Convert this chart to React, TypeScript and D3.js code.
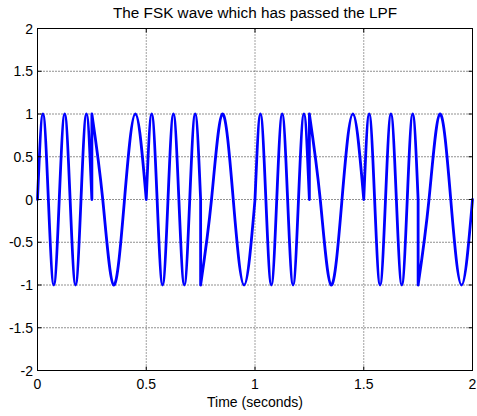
import React from "react";
import * as d3 from "d3";

// Key points of the filtered FSK wave: [time (s), amplitude]
// Each 0.25 s bit is drawn as its own segment.
const seg1: [number, number][] = [[0, 0], [0.025, 1], [0.05, 0], [0.075, -1], [0.1, 0], [0.125, 1], [0.15, 0], [0.175, -1], [0.2, 0], [0.225, 1], [0.25, 0]];
const seg2: [number, number][] = [[0.25, 1], [0.3, 0], [0.35, -1], [0.4, 0], [0.45, 1], [0.5, 0]];
const seg3: [number, number][] = [[0.5, 0], [0.525, 1], [0.55, 0], [0.575, -1], [0.6, 0], [0.625, 1], [0.65, 0], [0.675, -1], [0.7, 0], [0.725, 1], [0.75, 0]];
const seg4: [number, number][] = [[0.75, -1], [0.8, 0], [0.85, 1], [0.9, 0], [0.95, -1], [1.0, 0]];
const seg5: [number, number][] = [[1.0, 0], [1.025, 1], [1.05, 0], [1.075, -1], [1.1, 0], [1.125, 1], [1.15, 0], [1.175, -1], [1.2, 0], [1.225, 1], [1.25, 0]];
const seg6: [number, number][] = [[1.25, 1], [1.3, 0], [1.35, -1], [1.4, 0], [1.45, 1], [1.5, 0]];
const seg7: [number, number][] = [[1.5, 0], [1.525, 1], [1.55, 0], [1.575, -1], [1.6, 0], [1.625, 1], [1.65, 0], [1.675, -1], [1.7, 0], [1.725, 1], [1.75, 0]];
const seg8: [number, number][] = [[1.75, -1], [1.8, 0], [1.85, 1], [1.9, 0], [1.95, -1], [2.0, 0]];
const segments = [seg1, seg2, seg3, seg4, seg5, seg6, seg7, seg8];

const xTicks = [0, 0.5, 1, 1.5, 2];
const yTicks = [-2, -1.5, -1, -0.5, 0, 0.5, 1, 1.5, 2];
const xDomain: [number, number] = [0, 2];
const yDomain: [number, number] = [-2, 2];

const title = "The FSK wave which has passed the LPF";
const xLabel = "Time (seconds)";

const W = 477;
const H = 416;
const L = 37.5, R = 472.5, T = 28.5, B = 370.5;
const FONT = "Arial, 'Liberation Sans', Helvetica, sans-serif";

export default function App() {
  const x = d3.scaleLinear().domain(xDomain).range([L, R]);
  const y = d3.scaleLinear().domain(yDomain).range([B, T]);
  const line = d3
    .line<[number, number]>()
    .x((d) => x(d[0]))
    .y((d) => y(d[1]))
    .curve(d3.curveNatural);

  const pathD = segments
    .map((s, i) => {
      const p = line(s) || "";
      return i === 0 ? p : "L" + p.slice(1);
    })
    .join("");

  const tickLen = 4;
  const fs = 14;

  return (
    <svg
      width={W}
      height={H}
      style={{ position: "absolute", left: 0, top: 0, background: "#fff" }}
      fontFamily={FONT}
    >
      <rect x={0} y={0} width={W} height={H} fill="#fff" />
      {/* grid */}
      {xTicks.map((t) => (
        <line key={"gx" + t} x1={x(t)} x2={x(t)} y1={T} y2={B} stroke="#444" strokeWidth={1} strokeDasharray="1,2" />
      ))}
      {yTicks.map((t) => (
        <line key={"gy" + t} x1={L} x2={R} y1={y(t)} y2={y(t)} stroke="#222" strokeWidth={1} strokeDasharray="1,2" />
      ))}
      {/* wave */}
      <path d={pathD} fill="none" stroke="#0000ff" strokeWidth={2.8} strokeLinejoin="round" strokeLinecap="round" />
      {/* box */}
      <rect x={L} y={T} width={R - L} height={B - T} fill="none" stroke="#000" strokeWidth={1} />
      {/* ticks */}
      {xTicks.map((t) => (
        <g key={"tx" + t}>
          <line x1={x(t)} x2={x(t)} y1={B} y2={B - tickLen} stroke="#000" />
          <line x1={x(t)} x2={x(t)} y1={T} y2={T + tickLen} stroke="#000" />
          <text x={x(t)} y={389} textAnchor="middle" fontSize={fs} fill="#000">
            {String(t)}
          </text>
        </g>
      ))}
      {yTicks.map((t) => (
        <g key={"ty" + t}>
          <line x1={L} x2={L + tickLen} y1={y(t)} y2={y(t)} stroke="#000" />
          <line x1={R} x2={R - tickLen} y1={y(t)} y2={y(t)} stroke="#000" />
          <text x={33} y={y(t)} dy="0.36em" textAnchor="end" fontSize={fs} fill="#000">
            {String(t)}
          </text>
        </g>
      ))}
      <text x={(L + R) / 2} y={18} textAnchor="middle" fontSize={15.3} fill="#000">
        {title}
      </text>
      <text x={(L + R) / 2} y={407} textAnchor="middle" fontSize={fs} fill="#000">
        {xLabel}
      </text>
    </svg>
  );
}
